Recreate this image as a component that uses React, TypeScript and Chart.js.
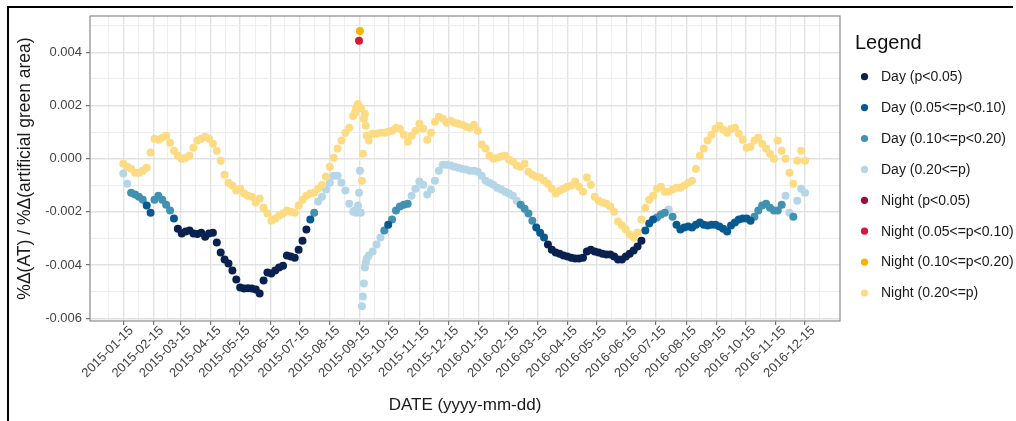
import { useEffect, useRef } from "react";
import { Chart, registerables } from "chart.js";

Chart.register(...registerables);

// Month ticks on the date axis (labels are the 15th of every month)
const xTickLabels = [
  "2015-01-15", "2015-02-15", "2015-03-15", "2015-04-15", "2015-05-15", "2015-06-15",
  "2015-07-15", "2015-08-15", "2015-09-15", "2015-10-15", "2015-11-15", "2015-12-15",
  "2016-01-15", "2016-02-15", "2016-03-15", "2016-04-15", "2016-05-15", "2016-06-15",
  "2016-07-15", "2016-08-15", "2016-09-15", "2016-10-15", "2016-11-15", "2016-12-15",
];

const yTickValues = [-0.006, -0.004, -0.002, 0, 0.002, 0.004];

// Observation dates, in days after 2015-01-15
const dayOffsets = [
  0, 4, 8, 12, 16, 20, 24, 28, 32, 36,
  40, 44, 48, 52, 56, 60, 64, 68, 72, 76,
  80, 84, 88, 92, 96, 100, 104, 108, 112, 116,
  120, 124, 128, 132, 136, 140, 144, 148, 152, 156,
  160, 164, 168, 172, 176, 180, 184, 188, 192, 196,
  200, 204, 208, 212, 216, 220, 224, 228, 232, 236,
  238, 239, 240, 241, 242, 243, 244, 245, 246, 247, 248, 249, 250,
  252, 256, 260, 264, 268, 272, 276, 280, 284, 288,
  292, 296, 300, 304, 308, 312, 316, 320, 324, 328,
  332, 336, 340, 344, 348, 352, 356, 360, 364, 368,
  372, 376, 380, 384, 388, 392, 396, 400, 404, 408,
  412, 416, 420, 424, 428, 432, 436, 440, 444, 448,
  452, 456, 460, 464, 468, 472, 476, 480, 484, 488,
  492, 496, 500, 504, 508, 512, 516, 520, 524, 528,
  532, 536, 540, 544, 548, 552, 556, 560, 564, 568,
  572, 576, 580, 584, 588, 592, 596, 600, 604, 608,
  612, 616, 620, 624, 628, 632, 636, 640, 644, 648,
  652, 656, 660, 664, 668, 672, 676, 680, 684, 688,
  692, 696, 700,
];

// Daytime elasticity
const dayValues = [
  -0.00056, -0.00094, -0.00128, -0.00135, -0.00143, -0.00154, -0.00176, -0.00203, -0.00154, -0.00139,
  -0.00154, -0.00173, -0.00195, -0.00225, -0.00263, -0.00281, -0.00274, -0.0027, -0.00281, -0.00283,
  -0.00278, -0.00293, -0.00281, -0.00278, -0.00315, -0.00353, -0.00379, -0.00394, -0.0042, -0.00454,
  -0.00484, -0.00488, -0.00487, -0.00488, -0.00492, -0.00507, -0.00458, -0.00428, -0.00432, -0.0042,
  -0.00409, -0.00402, -0.00364, -0.00368, -0.00372, -0.00342, -0.00308, -0.00266, -0.00229, -0.00203,
  -0.00161, -0.00143, -0.00116, -0.0009, -0.00064, -0.00064, -0.0009, -0.0012, -0.00169, -0.00199,
  -0.00195, -0.00203, -0.00188, -0.00176, -0.00128, -0.00045, -0.00203, -0.00555, -0.00518, -0.00469, -0.00409, -0.0039, -0.00375,
  -0.00364, -0.00349, -0.00323, -0.00296, -0.0027, -0.00248, -0.00229, -0.00195, -0.0018, -0.00173,
  -0.00169, -0.00139, -0.00113, -0.00086, -0.00098, -0.00135, -0.00116, -0.00083, -0.00045, -0.00023,
  -0.00023, -0.00026, -0.0003, -0.00034, -0.00038, -0.00041, -0.00045, -0.00045, -0.00049, -0.00064,
  -0.00083, -0.0009, -0.00098, -0.00109, -0.00116, -0.00124, -0.00131, -0.00139, -0.00158, -0.00173,
  -0.00188, -0.00206, -0.00233, -0.00259, -0.00278, -0.00296, -0.00323, -0.00342, -0.00353, -0.00357,
  -0.00364, -0.00368, -0.00372, -0.00375, -0.00375, -0.00372, -0.00349, -0.00342, -0.00349, -0.00353,
  -0.00357, -0.0036, -0.0036, -0.00368, -0.00379, -0.00379, -0.00368, -0.00357, -0.00345, -0.0033,
  -0.00308, -0.0027, -0.00244, -0.00229, -0.00221, -0.0021, -0.00203, -0.00191, -0.00218, -0.00248,
  -0.00266, -0.00259, -0.00255, -0.00259, -0.00248, -0.0024, -0.00248, -0.00251, -0.00248, -0.00248,
  -0.00255, -0.00263, -0.00274, -0.00251, -0.0024, -0.00229, -0.00225, -0.00225, -0.00233, -0.00218,
  -0.00195, -0.00176, -0.00169, -0.00184, -0.00195, -0.00195, -0.00173, -0.00139, -0.00203, -0.00218,
  -0.00158, -0.00113, -0.00128,
];

// Significance class per daytime point: 0 p<0.05, 1 0.05-0.10, 2 0.10-0.20, 3 p>=0.20
const dayClass = [
  "33222211222221", "0000000000", "0000000000", "0000000000", "0000", "12", "3333333333",
  "3333333333333",
  "3333", "2", "1", "22222", "3333333333", "3333333333", "33333333", "2222", "111",
  "0000000000", "0000000000", "00000", "111", "22232", "11111111111111111111", "22222222", "332333",
].join("").split("").map(Number);

// Night-time elasticity
const nightValues = [
  -0.00019, -0.0003, -0.00038, -0.00053, -0.00053, -0.00045, -0.00034, 0.00023, 0.00075, 0.00071,
  0.00079, 0.00086, 0.0006, 0.0003, 0.00011, 0, 0.00004, 0.00011, 0.00041, 0.00068,
  0.00075, 0.00083, 0.00075, 0.00056, 0.0003, -0.00008, -0.0006, -0.0009, -0.00101, -0.0012,
  -0.00113, -0.00131, -0.00139, -0.00143, -0.00165, -0.0015, -0.00184, -0.00206, -0.00233, -0.00225,
  -0.00214, -0.00206, -0.00195, -0.00199, -0.00203, -0.00176, -0.00154, -0.00139, -0.00131, -0.00128,
  -0.00113, -0.00098, -0.00068, -0.0003, 0.00004, 0.00038, 0.00068, 0.00098, 0.00116, 0.00161,
  0.00173, 0.00188, 0.00199, 0.00206, 0.00443, 0.0048, 0.00191, -0.00083, 0.00019, 0.0015, 0.00169, 0.00124, 0.00086,
  0.00068, 0.00094, 0.00094, 0.00098, 0.00098, 0.00101, 0.00105, 0.00116, 0.00113, 0.0009,
  0.00064, 0.00086, 0.00105, 0.00131, 0.00113, 0.00071, 0.00098, 0.00139, 0.00158, 0.0015,
  0.00135, 0.00143, 0.00135, 0.00131, 0.00128, 0.0012, 0.00116, 0.00128, 0.00105, 0.00053,
  0.00038, 0.00011, 0, 0.00004, 0.00008, 0.00011, -0.00004, -0.00011, -0.00026, -0.0003,
  -0.00019, -0.00049, -0.0006, -0.00068, -0.00071, -0.00083, -0.00094, -0.00113, -0.00131, -0.0012,
  -0.00113, -0.00105, -0.00101, -0.00086, -0.00105, -0.00124, -0.00071, -0.00098, -0.00143, -0.00158,
  -0.00165, -0.00169, -0.0018, -0.00199, -0.00236, -0.00251, -0.00266, -0.00285, -0.00296, -0.00278,
  -0.00229, -0.00184, -0.00154, -0.00139, -0.00113, -0.00105, -0.00124, -0.00124, -0.00116, -0.00109,
  -0.00109, -0.00101, -0.0009, -0.00083, -0.00038, 0.00011, 0.00038, 0.00068, 0.0009, 0.00113,
  0.00124, 0.00109, 0.00098, 0.00113, 0.00116, 0.00094, 0.00071, 0.00041, 0.00045, 0.00068,
  0.00079, 0.00056, 0.00038, 0.00019, 0, 0.00068, 0.0003, 0, -0.00053, -0.00094,
  -0.00008, 0.0003, -0.00008,
];

const nightClass = [
  "3333333333", "3333333333", "3333333333", "3333333333", "3333333333", "3333333333",
  "3333123333333",
  "3333333333", "3333333333", "3333333333", "3333333333", "3333333333", "3333333333",
  "3333333333", "3333333333", "3333333333", "3333333333", "3333333333", "333",
].join("").split("").map(Number);

const dayLabels = ["Day (p<0.05)", "Day (0.05<=p<0.10)", "Day (0.10<=p<0.20)", "Day (0.20<=p)"];
const nightLabels = ["Night (p<0.05)", "Night (0.05<=p<0.10)", "Night (0.10<=p<0.20)", "Night (0.20<=p)"];
const dayColors = ["#0a2150", "#07598f", "#4391b0", "#b5d6e7"];
const nightColors = ["#98103a", "#d8163d", "#f6b300", "#fddb83"];

const FONT = '"Liberation Sans", Arial, Helvetica, sans-serif';
const DAY_MS = 86400000;
const origin = Date.parse(xTickLabels[0] + "T00:00:00Z");
const xMajor = xTickLabels.map((s) => Math.round((Date.parse(s + "T00:00:00Z") - origin) / DAY_MS));
const xMinor: number[] = [];
xMinor.push(xMajor[0] - (xMajor[1] - xMajor[0]) / 2);
for (let i = 0; i < xMajor.length - 1; i++) xMinor.push((xMajor[i] + xMajor[i + 1]) / 2);
xMinor.push(xMajor[xMajor.length - 1] + (xMajor[xMajor.length - 1] - xMajor[xMajor.length - 2]) / 2);
const xMajorSet = new Set(xMajor);
const xLabelAt = new Map(xMajor.map((v, i) => [v, xTickLabels[i]]));

const yStep = yTickValues[1] - yTickValues[0];
const yAll: number[] = [];
for (let i = 0; i < yTickValues.length; i++) {
  yAll.push(yTickValues[i]);
  yAll.push(yTickValues[i] + yStep / 2);
}
const yKey = (v: number) => Math.round(v * 1e6);
const yMajorSet = new Set(yTickValues.map(yKey));

function buildSeries(values: number[], classes: number[], labels: string[], colors: string[], order: number) {
  return labels.map((label, k) => ({
    label,
    data: dayOffsets.flatMap((d, i) => (classes[i] === k ? [{ x: d, y: values[i] }] : [])),
    backgroundColor: colors[k],
    borderColor: colors[k],
    borderWidth: 0,
    pointRadius: 4,
    pointHoverRadius: 4,
    showLine: false,
    order,
  }));
}

const panelBorder = {
  id: "panelBorder",
  afterDatasetsDraw(chart: any) {
    const { ctx, chartArea: a } = chart;
    ctx.save();
    ctx.strokeStyle = "#8a8a8a";
    ctx.lineWidth = 1.2;
    ctx.strokeRect(a.left, a.top, a.right - a.left, a.bottom - a.top);
    ctx.restore();
  },
};

const sideLegend = {
  id: "sideLegend",
  afterDraw(chart: any) {
    const { ctx } = chart;
    ctx.save();
    ctx.textAlign = "left";
    ctx.textBaseline = "middle";
    ctx.fillStyle = "#111";
    ctx.font = `20px ${FONT}`;
    ctx.fillText("Legend", 855, 43);
    ctx.font = `14px ${FONT}`;
    chart.data.datasets.forEach((ds: any, i: number) => {
      const y = 76.7 + i * 30.9;
      ctx.beginPath();
      ctx.arc(864.5, y, 3.6, 0, Math.PI * 2);
      ctx.fillStyle = ds.backgroundColor;
      ctx.fill();
      ctx.fillStyle = "#1a1a1a";
      ctx.fillText(ds.label, 881, y + 0.5);
    });
    ctx.restore();
  },
};

export default function App() {
  const ref = useRef<HTMLCanvasElement>(null);

  useEffect(() => {
    const datasets = [
      ...buildSeries(dayValues, dayClass, dayLabels, dayColors, 1),
      ...buildSeries(nightValues, nightClass, nightLabels, nightColors, 0),
    ];
    const chart = new Chart(ref.current as HTMLCanvasElement, {
      type: "scatter",
      data: { datasets },
      plugins: [panelBorder, sideLegend],
      options: {
        responsive: false,
        animation: false,
        events: [],
        layout: { padding: { left: 0, top: 16, right: 176, bottom: 0 } },
        plugins: {
          legend: { display: false },
          tooltip: { enabled: false },
        },
        scales: {
          x: {
            type: "linear",
            min: -34.2,
            max: 735.9,
            afterBuildTicks: (axis: any) => {
              axis.ticks = [...xMajor, ...xMinor].sort((a, b) => a - b).map((value) => ({ value }));
            },
            afterFit: (axis: any) => {
              axis.height = 100;
            },
            border: { display: false },
            grid: {
              color: (c: any) => (xMajorSet.has(c.tick?.value) ? "#e2e2e2" : "#eeeeee"),
              lineWidth: (c: any) => (xMajorSet.has(c.tick?.value) ? 1.4 : 1),
              tickColor: (c: any) => (xMajorSet.has(c.tick?.value) ? "#555" : "rgba(0,0,0,0)"),
              tickWidth: 1,
              tickLength: 4,
            },
            ticks: {
              autoSkip: false,
              minRotation: 45,
              maxRotation: 45,
              padding: -2,
              labelOffset: 8,
              color: "#444",
              font: { family: FONT, size: 13 },
              callback: (v: any) => xLabelAt.get(v) ?? "",
            },
            title: {
              display: true,
              text: "DATE (yyyy-mm-dd)",
              color: "#1a1a1a",
              font: { family: FONT, size: 17 },
              padding: { top: 0, bottom: 5 },
            },
          },
          y: {
            type: "linear",
            min: -0.0061015,
            max: 0.005365,
            afterBuildTicks: (axis: any) => {
              axis.ticks = yAll.map((value) => ({ value }));
            },
            afterFit: (axis: any) => {
              axis.width = 90;
            },
            border: { display: false },
            grid: {
              color: (c: any) => (yMajorSet.has(yKey(c.tick?.value ?? 1)) ? "#e2e2e2" : "#eeeeee"),
              lineWidth: (c: any) => (yMajorSet.has(yKey(c.tick?.value ?? 1)) ? 1.4 : 1),
              tickColor: (c: any) => (yMajorSet.has(yKey(c.tick?.value ?? 1)) ? "#555" : "rgba(0,0,0,0)"),
              tickWidth: 1,
              tickLength: 4,
            },
            ticks: {
              autoSkip: false,
              padding: 4,
              color: "#444",
              font: { family: FONT, size: 13 },
              callback: (v: any) => (yMajorSet.has(yKey(v)) ? Number(v).toFixed(3) : ""),
            },
            title: {
              display: true,
              text: "%Δ(AT) / %Δ(artificial green area)",
              color: "#1a1a1a",
              font: { family: FONT, size: 17.5 },
              padding: { top: 15, bottom: 0 },
            },
          },
        },
      },
    } as any);
    return () => chart.destroy();
  }, []);

  return (
    <div style={{ position: "absolute", left: 0, top: 0, width: 1016, height: 421, background: "#fff", overflow: "hidden" }}>
      <canvas ref={ref} width={1016} height={421} style={{ display: "block", width: 1016, height: 421 }} />
      <div style={{ position: "absolute", left: 7, top: 6, width: 1006, height: 2, background: "#000" }} />
      <div style={{ position: "absolute", left: 7, top: 6, width: 2, height: 415, background: "#000" }} />
    </div>
  );
}
